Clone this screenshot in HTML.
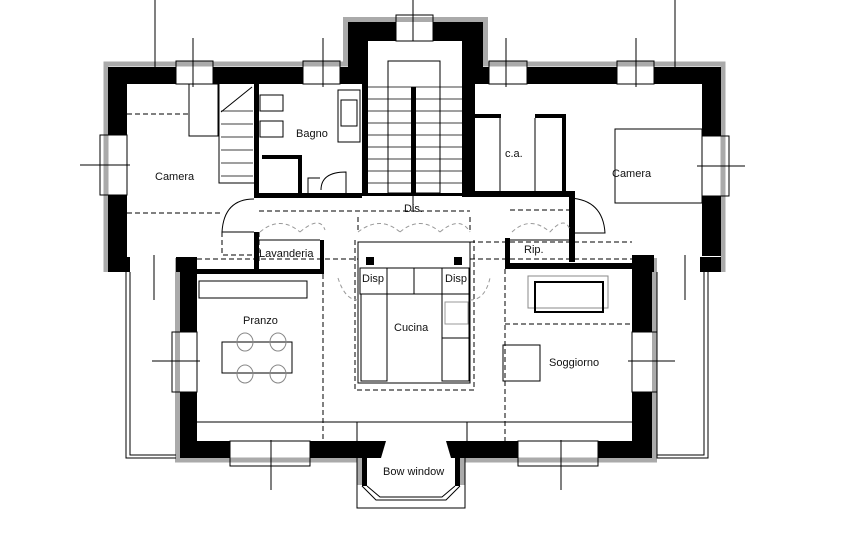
<!DOCTYPE html>
<html><head><meta charset="utf-8"><style>
html,body{margin:0;padding:0;background:#fff;}
svg{display:block;}
text{font-family:"Liberation Sans",sans-serif;font-size:11px;fill:#111;}
</style></head><body>
<svg width="862" height="542" viewBox="0 0 862 542" xmlns="http://www.w3.org/2000/svg">
<g fill="none" stroke="#000" stroke-width="1">
 <!-- outer grey plaster edges -->
 <path d="M106 272 V64 H345.5 V19.5 H485.5 V64 H723 V272" stroke="#aaa" stroke-width="5"/>
 <path d="M177.5 258 V460 H359.5 V485 M462.5 485 V460 H654.5 V258" stroke="#aaa" stroke-width="5"/>
</g>
<g fill="#000">
 <!-- top walls left wing -->
 <rect x="108" y="67" width="68" height="17"/>
 <rect x="213" y="67" width="90" height="17"/>
 <rect x="340" y="67" width="10" height="17"/>
 <!-- stair tower -->
 <rect x="348" y="22" width="48" height="19"/>
 <rect x="433" y="22" width="50" height="19"/>
 <rect x="348" y="22" width="20" height="62"/>
 <rect x="362" y="84" width="6" height="112"/>
 <rect x="462" y="22" width="21" height="62"/>
 <rect x="462" y="84" width="13" height="110"/>
 <rect x="411" y="87" width="5" height="109"/>
 <!-- right wing top -->
 <rect x="462" y="67" width="27" height="17"/>
 <rect x="527" y="67" width="90" height="17"/>
 <rect x="654" y="67" width="67" height="17"/>
 <!-- side walls -->
 <rect x="108" y="67" width="19" height="68"/>
 <rect x="108" y="195" width="19" height="62"/>
 <rect x="108" y="257" width="22" height="15"/>
 <rect x="702" y="67" width="19" height="69"/>
 <rect x="702" y="196" width="19" height="60"/>
 <rect x="700" y="257" width="21" height="15"/>
 <!-- interior -->
 <rect x="254" y="84" width="5" height="113"/>
 <rect x="254" y="193" width="108" height="5"/>
 <rect x="368" y="193" width="94" height="3"/>
 <rect x="462" y="191" width="113" height="6"/>
 <rect x="262" y="155" width="40" height="4"/>
 <rect x="298" y="155" width="4" height="38"/>
 <rect x="474" y="114" width="27" height="4"/>
 <rect x="535" y="114" width="31" height="4"/>
 <rect x="562" y="114" width="4" height="79"/>
 <rect x="254" y="232" width="5" height="42"/>
 <rect x="320" y="240" width="4" height="34"/>
 <rect x="197" y="269" width="127" height="5"/>
 <rect x="505" y="238" width="5" height="30"/>
 <rect x="569" y="197" width="6" height="65"/>
 <rect x="505" y="263" width="130" height="6"/>
 <rect x="366" y="257" width="8" height="8"/>
 <rect x="454" y="257" width="8" height="8"/>
 <!-- lower block walls -->
 <rect x="176" y="257" width="21" height="15"/>
 <rect x="180" y="257" width="17" height="75"/>
 <rect x="180" y="392" width="17" height="66"/>
 <rect x="632" y="255" width="22" height="17"/>
 <rect x="632" y="257" width="20" height="75"/>
 <rect x="632" y="392" width="20" height="66"/>
 <rect x="180" y="441" width="50" height="17"/>
 <path d="M310 441 H386 L381 458 H310 Z"/>
 <path d="M446 441 H518 V458 H451 Z"/>
 <rect x="598" y="441" width="54" height="17"/>
 <rect x="362" y="458" width="5" height="28"/>
 <rect x="455" y="458" width="5" height="28"/>
</g>
<g fill="none" stroke="#000" stroke-width="1">
 <!-- window frames -->
 <rect x="176" y="61" width="37" height="23"/><rect x="303" y="61" width="37" height="23"/>
 <rect x="396" y="15" width="37" height="26"/><rect x="489" y="61" width="38" height="23"/>
 <rect x="617" y="61" width="37" height="23"/>
 <rect x="100" y="135" width="27" height="60"/><rect x="702" y="136" width="27" height="60"/>
 <rect x="172" y="332" width="25" height="60"/><rect x="632" y="332" width="25" height="60"/>
 <rect x="230" y="441" width="80" height="25"/><rect x="518" y="441" width="80" height="25"/>
 <!-- bow window -->
 <path d="M362 486 L376 500 H446 L460 486 M357 458 V508 H465 V458"/>
 <path d="M367 486 L380 497 H442 L455 486"/>
 <!-- terraces -->
 <path d="M126 272 V458 H176 M130 272 V455 H176"/>
 <path d="M657 272 V458 H708 V272 M657 455 H704 V272"/>
 <!-- interior lines -->
 <line x1="197" y1="422" x2="632" y2="422"/>
 <line x1="357" y1="422" x2="357" y2="441"/><line x1="467" y1="422" x2="467" y2="441"/>
 <!-- stair -->
 <rect x="388" y="61" width="52" height="132"/>
 <g stroke-width="0.8">
 <path d="M368 87 H462 M368 99 H462 M368 111 H462 M368 123 H462 M368 135 H462 M368 147 H462 M368 159 H462 M368 171 H462 M368 183 H462"/>
 <path d="M221 111 H253 M221 124 H253 M221 137 H253 M221 150 H253 M221 163 H253 M221 176 H253"/>
 </g>
 <path d="M219 84 V183 H254 M221 112 L252 87"/>
 <rect x="189" y="84" width="29" height="52"/>
 <!-- bagno -->
 <rect x="260" y="95" width="23" height="16"/><rect x="260" y="121" width="23" height="16"/>
 <rect x="338" y="90" width="22" height="52"/><rect x="341" y="100" width="16" height="26"/>
 <path d="M308 193 V178 H320 M321 190 Q321 172 346 172 V193"/>
 <!-- c.a. -->
 <line x1="500" y1="118" x2="500" y2="193"/><line x1="535" y1="118" x2="535" y2="193"/>
 <!-- camera right bed -->
 <rect x="615" y="129" width="87" height="74"/>
 <!-- doors -->
 <path d="M254 199 Q224 199 222 232 H254"/>
 <path d="M570 198 Q603 200 605 233 H570"/>
 <!-- lavanderia / rip boxes -->
 <line x1="259" y1="240" x2="320" y2="240"/>
 <line x1="510" y1="240" x2="569" y2="240"/>
 <!-- cucina -->
 <rect x="358" y="242" width="112" height="141"/>
 <rect x="360" y="268" width="27" height="26"/><rect x="387" y="268" width="27" height="26"/>
 <rect x="414" y="268" width="28" height="26"/><rect x="442" y="268" width="27" height="26"/>
 <rect x="361" y="294" width="26" height="87"/><rect x="442" y="294" width="27" height="87"/>
 <rect x="445" y="302" width="23" height="22" stroke="#999"/>
 <line x1="442" y1="338" x2="469" y2="338"/>
 <!-- pranzo -->
 <rect x="199" y="281" width="108" height="17"/>
 <rect x="222" y="342" width="70" height="31"/>
 <g stroke="#888"><ellipse cx="245" cy="342" rx="8" ry="9"/><ellipse cx="278" cy="342" rx="8" ry="9"/><ellipse cx="245" cy="374" rx="8" ry="9"/><ellipse cx="278" cy="374" rx="8" ry="9"/></g>
 <!-- soggiorno -->
 <rect x="528" y="276" width="80" height="32" stroke="#888"/>
 <rect x="535" y="282" width="68" height="30" stroke-width="2"/>
 <rect x="503" y="345" width="37" height="36"/>
 <!-- axis lines -->
 <path d="M155 0 V67 M193 38 V87 M323 38 V87 M413 0 V41 M506 38 V87 M636 38 V87 M675 0 V67"/>
 <path d="M80 165 H130 M697 166 H745 M152 361 H200 M628 361 H675"/>
 <path d="M154 255 V300 M685 255 V300 M271 440 V490 M561 440 V490 M413 180 V210"/>
</g>
<!-- dashed -->
<g fill="none" stroke="#000" stroke-dasharray="5,3">
 <path d="M127 114 H188 M127 213 H220 M222 232 V255 H254 M197 259 H358 M470 259 H632"/>
 <path d="M259 211 H470 M510 210 H569 M259 232 V264 M470 242 H632 M323 274 V441 M505 269 V441 M505 324 H632"/>
 <path d="M355 240 V390 H474 V240 M358 230 V215 M470 230 V215"/>
</g>
<g fill="none" stroke="#999" stroke-dasharray="4,3">
 <path d="M260 232 Q280 215 300 232 M300 232 Q320 215 325 230 M358 232 Q380 215 400 232 M400 232 Q420 215 440 232 M440 232 Q460 215 470 232 M512 232 Q530 215 550 232 M550 232 Q565 215 570 230"/>
 <path d="M338 278 Q345 300 358 300 M470 300 Q485 300 490 278"/>
</g>
<text x="155" y="180">Camera</text>
<text x="296" y="137">Bagno</text>
<text x="505" y="157">c.a.</text>
<text x="612" y="177">Camera</text>
<text x="404" y="212">Dis.</text>
<text x="259" y="257" font-size="12">Lavanderia</text>
<text x="524" y="253">Rip.</text>
<text x="362" y="282">Disp</text>
<text x="445" y="282">Disp</text>
<text x="243" y="324">Pranzo</text>
<text x="394" y="331">Cucina</text>
<text x="549" y="366">Soggiorno</text>
<text x="383" y="475">Bow window</text>
</svg>
</body></html>
